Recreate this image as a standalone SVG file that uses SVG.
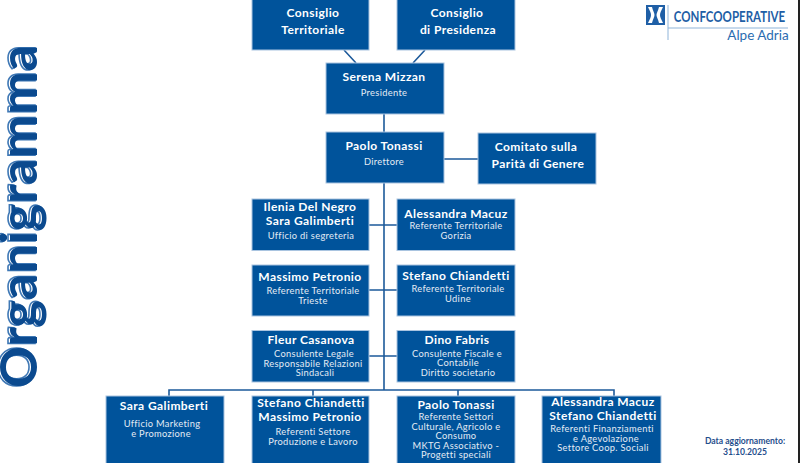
<svg xmlns="http://www.w3.org/2000/svg" width="800" height="463" viewBox="0 0 800 463">
<style>
text{font-family:"Lato","Liberation Sans",sans-serif;text-anchor:middle;fill:#fff}
.b{fill:#00539b;stroke:#a9c4e0;stroke-width:1}
.n{font-size:12px;font-weight:700;letter-spacing:.42px}
.s{font-size:9.300px;letter-spacing:.32px;fill:#e4ecf5}
.c{fill:none;stroke:#1d5a9a;stroke-width:1.6}
.t{font-size:51px;font-weight:700;fill:#0b4a8f}
.m{font-size:8.600px;font-weight:700;fill:#1f4e8c}
</style>
<rect width="800" height="463" fill="#fff"/>
<rect x="798" width="2" height="463" fill="#222"/>
<g id="title">
<text class="t" transform="translate(35 216.500) rotate(-90)" textLength="343" lengthAdjust="spacingAndGlyphs" style="fill:#fff;stroke:#3f78b5;stroke-width:1.600">Organigramma</text>
<text class="t" transform="translate(37 216.500) rotate(-90)" textLength="343" lengthAdjust="spacingAndGlyphs">Organigramma</text>
</g>
<g id="connectors">
<path class="c" d="M344 50L356 63M425 50L413 63M384 114V132M444 159H478M384 183V390M369 225H397M369 290H397M369 356H397M169 396V390H614V396M313 390V396M458 390V396"/>
</g>
<g id="consiglio-territoriale"><rect class="b" x="252" y="-1" width="117" height="51"/><text class="n" x="313" y="17">Consiglio</text><text class="n" x="313" y="34">Territoriale</text></g>
<g id="consiglio-presidenza"><rect class="b" x="397" y="-1" width="118" height="51"/><text class="n" x="457" y="17">Consiglio</text><text class="n" x="458" y="34">di Presidenza</text></g>
<g id="serena"><rect class="b" x="326" y="63" width="118" height="51"/><text class="n" x="384" y="81">Serena Mizzan</text><text class="s" x="384" y="96">Presidente</text></g>
<g id="paolo-direttore"><rect class="b" x="326" y="132" width="118" height="51"/><text class="n" x="384" y="150">Paolo Tonassi</text><text class="s" x="384" y="165">Direttore</text></g>
<g id="comitato"><rect class="b" x="478" y="133" width="118" height="51"/><text class="n" x="536" y="151">Comitato sulla</text><text class="n" x="538" y="168">Parità di Genere</text></g>
<g id="ilenia"><rect class="b" x="252" y="199" width="117" height="51.500"/><text class="n" x="310" y="211">Ilenia Del Negro</text><text class="n" x="310" y="225">Sara Galimberti</text><text class="s" x="311" y="239">Ufficio di segreteria</text></g>
<g id="alessandra"><rect class="b" x="397" y="199" width="118" height="51.500"/><text class="n" x="456" y="218">Alessandra Macuz</text><text class="s" x="456" y="229">Referente Territoriale</text><text class="s" x="456" y="239">Gorizia</text></g>
<g id="massimo"><rect class="b" x="252" y="265" width="117" height="51"/><text class="n" x="310" y="281">Massimo Petronio</text><text class="s" x="313" y="294">Referente Territoriale</text><text class="s" x="313" y="303.500">Trieste</text></g>
<g id="stefano"><rect class="b" x="397" y="265" width="118" height="51"/><text class="n" x="456" y="280">Stefano Chiandetti</text><text class="s" x="458" y="292">Referente Territoriale</text><text class="s" x="458" y="302">Udine</text></g>
<g id="fleur"><rect class="b" x="252" y="330.500" width="117" height="51.500"/><text class="n" x="311" y="344">Fleur Casanova</text><text class="s" x="314" y="357">Consulente Legale</text><text class="s" x="313" y="366.500">Responsabile Relazioni</text><text class="s" x="315" y="376">Sindacali</text></g>
<g id="dino"><rect class="b" x="397" y="330.500" width="118" height="51.500"/><text class="n" x="457" y="344">Dino Fabris</text><text class="s" x="457" y="356.500">Consulente Fiscale e</text><text class="s" x="458" y="366">Contabile</text><text class="s" x="458" y="375.500">Diritto societario</text></g>
<g id="sara"><rect class="b" x="106" y="396" width="118" height="68"/><text class="n" x="164" y="410">Sara Galimberti</text><text class="s" x="162" y="427">Ufficio Marketing</text><text class="s" x="161" y="437">e Promozione</text></g>
<g id="stefano-massimo"><rect class="b" x="252" y="396" width="117" height="68"/><text class="n" x="311" y="407">Stefano Chiandetti</text><text class="n" x="310" y="421">Massimo Petronio</text><text class="s" x="313" y="435">Referenti Settore</text><text class="s" x="313" y="444.500">Produzione e Lavoro</text></g>
<g id="paolo-referente"><rect class="b" x="397" y="396" width="118" height="68"/><text class="n" x="456" y="409">Paolo Tonassi</text><text class="s" x="456" y="420">Referente Settori</text><text class="s" x="456" y="429.500">Culturale, Agricolo e</text><text class="s" x="456" y="439">Consumo</text><text class="s" x="456" y="448.500">MKTG Associativo -</text><text class="s" x="456" y="458">Progetti speciali</text></g>
<g id="alessandra-stefano"><rect class="b" x="542" y="396" width="119" height="68"/><text class="n" x="603" y="406">Alessandra Macuz</text><text class="n" x="603" y="420">Stefano Chiandetti</text><text class="s" x="602" y="432">Referenti Finanziamenti</text><text class="s" x="606" y="441.500">e Agevolazione</text><text class="s" x="603" y="451">Settore Coop. Sociali</text></g>
<g id="data"><text class="m" x="745" y="444">Data aggiornamento:</text><text class="m" x="745" y="455">31.10.2025</text></g>
<g id="logo">
<rect x="646" y="5" width="19" height="20" fill="#1f5fa6"/>
<path d="M648 7H652C653 11 654.500 13 654.500 15S653 19 652 23H648C650 19 651 17 651 15S650 11 648 7zM663 7H659C658 11 656.500 13 656.500 15S658 19 659 23H663C661 19 660 17 660 15S661 11 663 7z" fill="#fff"/>
<path d="M668 5V40M668 28H788" stroke="#8fb4d9" stroke-width="1" fill="none"/>
<text transform="translate(729.500 22) scale(.72 1)" style="font-size:16px;font-weight:700;fill:#1f5fa6">CONFCOOPERATIVE</text>
<text x="758" y="40" style="font-size:13.500px;fill:#2b6cb0">Alpe Adria</text>
</g>
</svg>
